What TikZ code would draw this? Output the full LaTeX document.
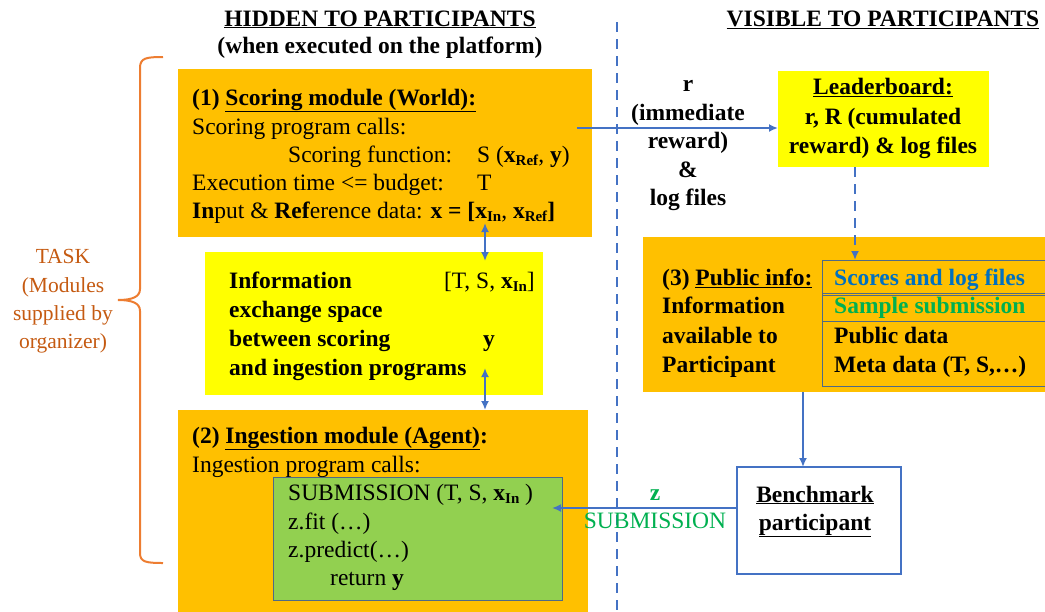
\documentclass[tikz,border=0pt]{standalone}
\usepackage{fontspec}
\setmainfont{Liberation Serif}
\usepackage{xcolor}
\usepackage{tikz}
\usetikzlibrary{arrows.meta}

\definecolor{boxorange}{HTML}{FFC000}
\definecolor{boxyellow}{HTML}{FFFF00}
\definecolor{boxgreen}{HTML}{92D050}
\definecolor{arrblue}{HTML}{4472C4}
\definecolor{edgegrey}{HTML}{4F6A86}
\definecolor{bracecol}{HTML}{ED7D31}
\definecolor{taskcol}{HTML}{C55A11}
\definecolor{scoreblue}{HTML}{0070C0}
\definecolor{subgreen}{HTML}{00B050}

\newcommand\bodyfont{\fontsize{23.5}{29}\selectfont}
\newcommand\xsub[1]{\textbf{x}\raisebox{-0.35ex}{\fontsize{15}{15}\selectfont\textbf{#1}}}

\begin{document}
\begin{tikzpicture}[x=1pt, y=-1pt, font=\bodyfont,
	box/.style={anchor=north west, inner sep=0pt, outer sep=0pt},
	txt/.style={anchor=base west, inner sep=0pt},
	ctxt/.style={anchor=base, inner sep=0pt},
	arr/.style={draw=arrblue, line width=2pt, >={Latex[length=9pt,width=8pt]}, ->},
	bluedash/.style={dash pattern=on 10pt off 7pt}]
	\clip (0,0) rectangle (1045,611);

	% hidden side
	\node[box, fill=boxorange, minimum width=414, minimum height=168] (score) at (178,69) {};
	\node[box, fill=boxyellow, minimum width=338, minimum height=143] (info) at (205,252) {};
	\node[box, fill=boxorange, minimum width=410, minimum height=205] (ingest) at (178,410) {};
	\node[box, fill=boxgreen, draw=edgegrey, line width=1pt, minimum width=289, minimum height=123] (subm) at (273,477) {};

	\node[ctxt] (hidden) at (380,26) {\underline{\textbf{HIDDEN TO PARTICIPANTS}}};
	\node[ctxt] (when) at (380,53) {\textbf{(when executed on the platform)}};
	\node[ctxt] (visible) at (883,26) {\underline{\textbf{VISIBLE TO PARTICIPANTS}}};

	\node[txt] (sc1) at (192,105) {\textbf{(1) \underline{Scoring module (World):}}};
	\node[txt] (sc2) at (192,134) {Scoring program calls:};
	\node[txt] (sc3) at (288,162) {Scoring function:};
	\node[txt] (sc3b) at (477,162) {S (\xsub{Ref}, \textbf{y})};
	\node[txt] (sc4) at (192,190) {Execution time <= budget:};
	\node[txt] (sc4b) at (477,190) {T};
	\node[txt] (sc5) at (192,218) {\textbf{In}put \& \textbf{Ref}erence data: \textbf{x = [}\xsub{In}, \xsub{Ref}\textbf{]}};

	\node[txt] (in1) at (229,288) {\textbf{Information}};
	\node[txt] (in2) at (229,317) {\textbf{exchange space}};
	\node[txt] (in3) at (229,346) {\textbf{between scoring}};
	\node[txt] (in4) at (229,375) {\textbf{and ingestion programs}};
	\node[anchor=base east, inner sep=0pt] (inT) at (535,288) {[T, S, \xsub{In}]};
	\node[txt] (inY) at (483,346) {\textbf{y}};

	\node[txt] (ig1) at (192,443) {\textbf{(2) \underline{Ingestion module (Agent)}:}};
	\node[txt] (ig2) at (192,472) {Ingestion program calls:};
	\node[txt] (gr1) at (288,500) {SUBMISSION (T, S, \xsub{In} )};
	\node[txt] (gr2) at (288,529) {z.fit (\dots)};
	\node[txt] (gr3) at (288,557) {z.predict(\dots)};
	\node[txt] (gr4) at (330,585) {return \textbf{y}};

	% brace and task
	\draw[bracecol, line width=2pt] (163,57) .. controls (146,57) and (140,58) .. (140,68) -- (140,289)
		.. controls (140,297) and (132,300) .. (118,300) .. controls (132,300) and (140,303) .. (140,311)
		-- (140,553) .. controls (140,562) and (146,563) .. (163,563);
	\node[ctxt, text=taskcol, font=\fontsize{21.5}{28}\selectfont] (task1) at (63,263) {TASK};
	\node[ctxt, text=taskcol, font=\fontsize{21.5}{28}\selectfont] (task2) at (63,292) {(Modules};
	\node[ctxt, text=taskcol, font=\fontsize{21.5}{28}\selectfont] (task3) at (63,320) {supplied by};
	\node[ctxt, text=taskcol, font=\fontsize{21.5}{28}\selectfont] (task4) at (63,348) {organizer)};

	% visible side
	\node[box, fill=boxyellow, minimum width=211, minimum height=96] (lead) at (778,71) {};
	\node[ctxt] (ld1) at (883,94) {\textbf{\underline{Leaderboard:}}};
	\node[ctxt] (ld2) at (883,124) {\textbf{r, R (cumulated}};
	\node[ctxt] (ld3) at (883,153) {\textbf{reward) \& log files}};

	\node[box, fill=boxorange, minimum width=410, minimum height=155] (pub) at (643,237) {};
	\node[box, draw=edgegrey, line width=1pt, minimum width=240, minimum height=126] (pubcol) at (822,260) {};
	\node[box, draw=edgegrey, line width=1pt, minimum width=240, minimum height=26] (samp) at (822,295) {};
	\draw[edgegrey, line width=1pt] (pubcol.north west) ++(0,33) -- ++(240,0);
	\node[txt] (pb1) at (662,285) {\textbf{(3) \underline{Public info:}}};
	\node[txt] (pb2) at (662,313) {\textbf{Information}};
	\node[txt] (pb3) at (662,343) {\textbf{available to}};
	\node[txt] (pb4) at (662,372) {\textbf{Participant}};
	\node[txt, text=scoreblue] (pc1) at (834,285) {\textbf{Scores and log files}};
	\node[txt, text=subgreen] (pc2) at (834,313) {\textbf{Sample submission}};
	\node[txt] (pc3) at (834,343) {\textbf{Public data}};
	\node[txt] (pc4) at (834,372) {\textbf{Meta data (T, S,\dots)}};

	\node[box, draw=arrblue, line width=1.5pt, fill=white, minimum width=164, minimum height=107] (bench) at (737,467) {};
	\node[ctxt] (bn1) at (815,502) {\textbf{\underline{Benchmark}}};
	\node[ctxt] (bn2) at (815,530) {\textbf{\underline{participant}}};

	% separator
	\coordinate (sepTop) at (617,22);
	\coordinate (sepBot) at (617,611);
	\draw[arrblue, line width=2pt, bluedash] (sepTop) -- (sepBot);

	% connectors
	\coordinate (rStart) at (577,128);
	\draw[arr] (rStart) -- (rStart -| lead.west);
	\node[align=center, inner sep=0pt, font={\fontsize{23.5}{28.5}\selectfont\bfseries}] (rlab) at (688,146)
		{r\\(immediate\\reward)\\\&\\log files};

	\coordinate (xIn) at (485,223);
	\coordinate (xTop) at (485,261);
	\draw[arr, <->] (xIn) -- (xTop);
	\coordinate (yTip) at (485,368);
	\draw[arr, <->] (yTip) -- (yTip |- ingest.north);

	\coordinate (ldX) at (855,0);
	\draw[arr, bluedash] (ldX |- lead.south) -- (ldX |- pubcol.north);
	\coordinate (pbX) at (803,0);
	\draw[arr] (pbX |- pub.south) -- (pbX |- bench.north);

	\coordinate (zIn) at (552,508);
	\draw[arr] (zIn -| bench.west) -- (zIn);
	\node[ctxt, text=subgreen] (zlab) at (655,500) {\textbf{z}};
	\node[ctxt, text=subgreen] (zsub) at (655,528) {SUBMISSION};
\end{tikzpicture}
\end{document}
